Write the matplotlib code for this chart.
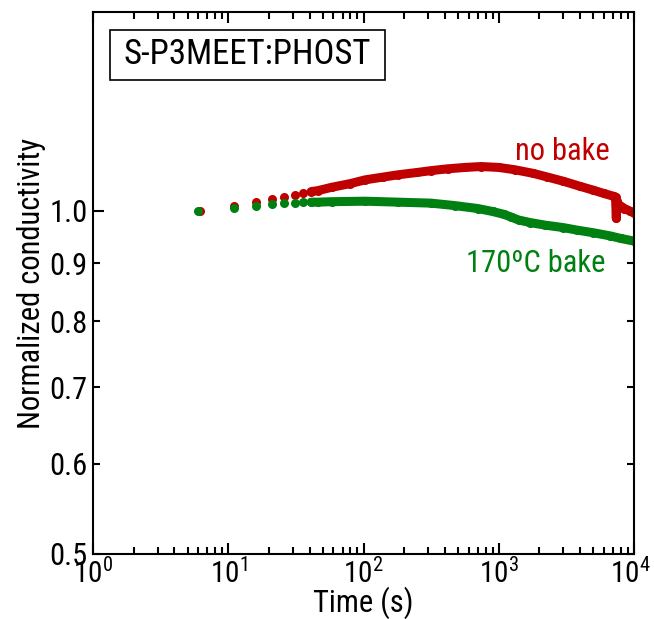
import matplotlib
matplotlib.use("Agg")
import matplotlib.pyplot as plt
from matplotlib import font_manager
from matplotlib.patches import Rectangle
from matplotlib.transforms import ScaledTranslation
from matplotlib.ticker import LogLocator, FixedLocator, FixedFormatter, NullFormatter

names = {f.name for f in font_manager.fontManager.ttflist}
fam = "Liberation Sans"
for cand in ["Liberation Sans Narrow", "Arial Narrow", "Roboto Condensed",
             "Archivo Narrow", "Noto Sans Condensed"]:
    if cand in names:
        fam = cand
        break
plt.rcParams["font.family"] = [fam, "DejaVu Sans"]
plt.rcParams["mathtext.fontset"] = "custom"
plt.rcParams["mathtext.rm"] = fam
plt.rcParams["mathtext.it"] = fam

# ---- data ----
# sparse early samples (drawn as separate dots)
t_sparse_red = [6.2, 11, 16, 21, 26, 31, 36]
v_sparse_red = [1.000, 1.010, 1.018, 1.025, 1.028, 1.033, 1.036]
t_sparse_green = [6, 11, 16, 21, 26, 31, 36]
v_sparse_green = [1.000, 1.007, 1.011, 1.014, 1.016, 1.017, 1.018]

# dense samples (dots so close they merge into a thick band)
t_dense_red = [41, 46, 58, 80, 103, 140, 181, 250, 316, 420, 562, 740, 1000,
               1310, 1800, 2290, 3000, 4000, 5000, 6000, 7100, 7300, 7400,
               7450, 7600, 8500, 9300, 10000]
v_dense_red = [1.040, 1.042, 1.049, 1.057, 1.065, 1.071, 1.076, 1.081, 1.085,
               1.089, 1.092, 1.094, 1.092, 1.087, 1.079, 1.071, 1.062, 1.051,
               1.043, 1.036, 1.030, 1.028, 0.985, 1.020, 1.014, 1.005, 1.000,
               0.996]
t_dense_green = [41, 46, 58, 103, 181, 316, 472, 700, 900, 1100, 1230, 1400,
                 1700, 2180, 3000, 3813, 5000, 6650, 8000, 10000]
v_dense_green = [1.018, 1.018, 1.019, 1.020, 1.018, 1.016, 1.011, 1.005, 0.999,
                 0.993, 0.988, 0.982, 0.977, 0.972, 0.967, 0.962, 0.957, 0.951,
                 0.946, 0.941]

x_ticks = [1, 10, 100, 1000, 10000]
x_tick_labels = [r"$\mathdefault{10^{0}}$", r"$\mathdefault{10^{1}}$",
                 r"$\mathdefault{10^{2}}$", r"$\mathdefault{10^{3}}$",
                 r"$\mathdefault{10^{4}}$"]
y_ticks = [0.5, 0.6, 0.7, 0.8, 0.9, 1.0]
y_tick_labels = ["0.5", "0.6", "0.7", "0.8", "0.9", "1.0"]

RED = "#C00000"
GREEN = "#008010"

W, H = 654, 619
L, R, T, B = 93, 634, 12, 554
fig = plt.figure(figsize=(W/100, H/100), dpi=100)
ax = fig.add_axes([L/W, 1-B/H, (R-L)/W, (B-T)/H])

def ax_x(px):
    return (px - L) / (R - L)

def ax_y(py):
    return (B - py) / (B - T)

ms = 6.5
for t_s, v_s, t_d, v_d, c in [(t_sparse_red, v_sparse_red, t_dense_red, v_dense_red, RED),
                              (t_sparse_green, v_sparse_green, t_dense_green, v_dense_green, GREEN)]:
    ax.plot(t_s, v_s, "o", color=c, ms=ms, mec="none")
    ax.plot(t_d, v_d, "-", color=c, lw=ms, solid_capstyle="round",
            solid_joinstyle="round")
    ax.plot(t_d, v_d, "o", color=c, ms=ms, mec="none")

ax.set_xscale("log")
ax.set_yscale("log")
ax.set_xlim(1, 1e4)
ax.set_ylim(0.5, 1.495)

ax.xaxis.set_major_locator(FixedLocator(x_ticks))
ax.xaxis.set_major_formatter(FixedFormatter(x_tick_labels))
ax.xaxis.set_minor_locator(LogLocator(base=10, subs=range(2, 10), numticks=20))
ax.xaxis.set_minor_formatter(NullFormatter())

ax.yaxis.set_major_locator(FixedLocator([1.0]))
ax.yaxis.set_major_formatter(FixedFormatter(["1.0"]))
ax.yaxis.set_minor_locator(FixedLocator(y_ticks[:-1]))
ax.yaxis.set_minor_formatter(FixedFormatter(y_tick_labels[:-1]))

fs = 22
ax.tick_params(which="both", direction="in", top=True, right=True, width=1.5,
               labelsize=fs, colors="black")
ax.tick_params(which="major", length=8)
ax.tick_params(which="minor", length=5)
ax.tick_params(axis="y", which="both", pad=4)
ax.tick_params(axis="x", which="both", pad=3, labelsize=21)
for s in ax.spines.values():
    s.set_linewidth(1.5)

# keep the last x tick label inside the canvas
last = ax.xaxis.get_major_ticks(len(x_ticks))[-1].label1
last.set_transform(last.get_transform() + ScaledTranslation(-3/72, 0, fig.dpi_scale_trans))

ax.set_xlabel("Time (s)", fontsize=fs, labelpad=-1.5)
ax.set_ylabel("Normalized conductivity", fontsize=fs, labelpad=2)

ax.add_patch(Rectangle((ax_x(110), ax_y(80)), ax_x(385) - ax_x(110),
                       ax_y(30) - ax_y(80), transform=ax.transAxes,
                       fc="white", ec="black", lw=1.2, zorder=5))
ax.text((ax_x(110) + ax_x(385)) / 2, ax_y(55), "S-P3MEET:PHOST",
        transform=ax.transAxes, fontsize=25, va="center", ha="center", zorder=6)

ax.text(ax_x(610), ax_y(151), "no bake", transform=ax.transAxes, fontsize=fs,
        color=RED, ha="right", va="center")
ax.text(ax_x(605), ax_y(264), "170ºC bake", transform=ax.transAxes, fontsize=fs,
        color=GREEN, ha="right", va="center")

fig.savefig("out.png", dpi=100)
